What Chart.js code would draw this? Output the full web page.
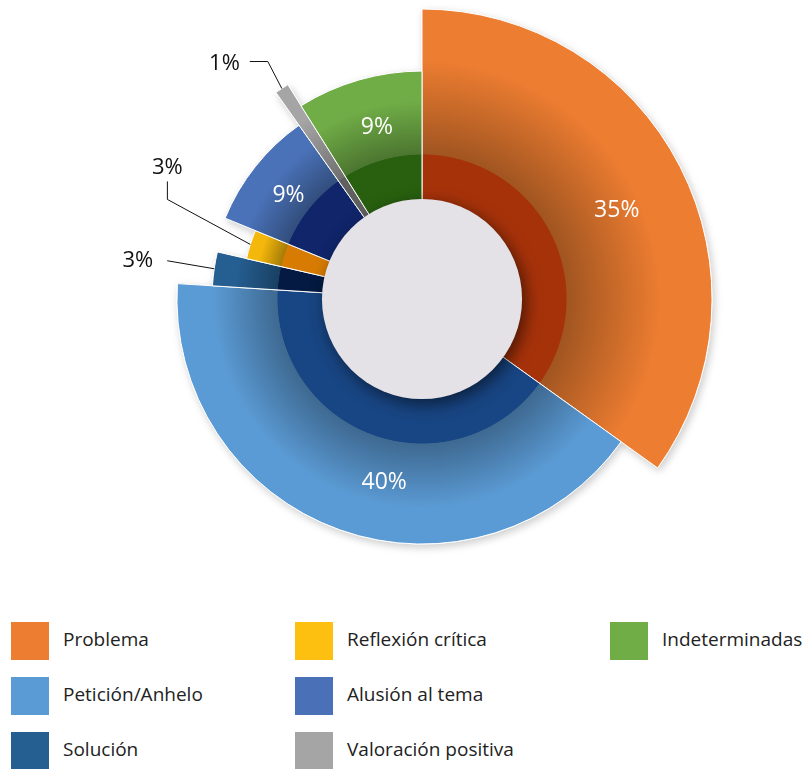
<!DOCTYPE html>
<html lang="es">
<head>
<meta charset="UTF-8">
<title>Categorías</title>
<script src="https://cdn.jsdelivr.net/npm/chart.js"></script>
<style>
  body{margin:0;background:#fff;font-family:"Open Sans",sans-serif}
  .wrap{position:relative;width:806px;height:769px;overflow:hidden}
  #chart{position:absolute;left:0;top:0}
  #legend{position:absolute;left:11px;top:622px;display:grid;grid-template-columns:284px 315px auto;grid-template-rows:repeat(3,55px);grid-auto-flow:column}
  .item{display:flex;align-items:flex-start;font-size:19px;color:#222;white-space:nowrap}
  .sw{width:38px;height:38px;margin-right:14px;flex:none}
  .item span{line-height:34px}
</style>
</head>
<body>
<div class="wrap">
  <canvas id="chart" width="806" height="600"></canvas>
  <div id="legend"></div>
</div>

<script>
const categories = ['Problema','Petición/Anhelo','Solución','Reflexión crítica','Alusión al tema','Valoración positiva','Indeterminadas'];
const shares = [34.9, 41.1, 2.6, 2.6, 9.0, 0.9, 8.9];        // % del total -> ángulo
const reach = [100, 84.5, 72.4, 62.1, 73.4, 87.2, 78.6];     // extensión relativa de cada sector
const shareLabels = ['35%','40%','3%','3%','9%','1%','9%'];

const colors = ['#ed7d31','#5b9bd5','#255e91','#f4b70c','#4a72b8','#a5a5a5','#70ad47'];
const ringColors = ['#a6320a','#184583','#041a42','#d87b02','#10256a','#606060','#28600f'];

const HOLE = 0.345, RING = 0.497;

function shade(hex, f){
  const n = parseInt(hex.slice(1),16);
  return `rgb(${Math.round((n>>16&255)*f)},${Math.round((n>>8&255)*f)},${Math.round((n&255)*f)})`;
}

// radial fill: dark inner ring, then a shaded band fading to the slice colour
function sliceFill(c){
  const i = c.dataIndex, s = c.chart.scales.r;
  if (c.type !== 'data' || !s || !s.drawingArea) return colors[i || 0];
  const ro = s.getDistanceFromCenterForValue(reach[i]);
  const g = c.chart.ctx.createRadialGradient(s.xCenter, s.yCenter, 0, s.xCenter, s.yCenter, ro);
  const ringEnd = Math.min(0.99, RING * s.drawingArea / ro);
  g.addColorStop(0, ringColors[i]);
  g.addColorStop(ringEnd, ringColors[i]);
  g.addColorStop(Math.min(1, ringEnd + 0.003), shade(colors[i], 0.68));
  g.addColorStop(Math.min(1, ringEnd + 0.65 * (1 - ringEnd)), colors[i]);
  g.addColorStop(1, colors[i]);
  return g;
}

const decor = {
  id: 'decor',
  beforeDatasetsDraw(chart){
    const ctx = chart.ctx;
    ctx.save();
    ctx.shadowColor = 'rgba(0,0,0,0.2)';
    ctx.shadowBlur = 8; ctx.shadowOffsetX = 2; ctx.shadowOffsetY = 3;
    chart.getDatasetMeta(0).data.forEach(a => a.draw(ctx));
    ctx.restore();
  },
  afterDatasetsDraw(chart, args, opts){
    const s = chart.scales.r, ctx = chart.ctx, D = s.drawingArea;
    // centre hole
    ctx.save();
    ctx.shadowColor = 'rgba(0,0,0,0.55)';
    ctx.shadowBlur = 16; ctx.shadowOffsetX = 4; ctx.shadowOffsetY = 5;
    ctx.fillStyle = '#e4e2e7';
    ctx.beginPath(); ctx.arc(s.xCenter, s.yCenter, HOLE * D, 0, Math.PI * 2); ctx.fill();
    ctx.restore();

    // labels
    ctx.save();
    chart.getDatasetMeta(0).data.forEach((a, i) => {
      const mid = (a.startAngle + a.endAngle) / 2;
      const co = opts.callouts[i];
      if (!co) {
        const ang = mid + opts.turn[i] * Math.PI / 180;
        const r = 0.154 * D + 0.584 * a.outerRadius;
        ctx.font = '23px "Open Sans"';
        ctx.fillStyle = '#fff';
        ctx.textAlign = 'center'; ctx.textBaseline = 'middle';
        ctx.fillText(shareLabels[i], a.x + r * Math.cos(mid === ang ? mid : ang), a.y + r * Math.sin(ang));
        return;
      }
      let x = a.x + a.outerRadius * Math.cos(mid), y = a.y + a.outerRadius * Math.sin(mid);
      ctx.strokeStyle = '#111'; ctx.lineWidth = 1;
      ctx.beginPath(); ctx.moveTo(x, y);
      co.path.forEach(([dx, dy]) => { x += dx; y += dy; ctx.lineTo(x, y); });
      ctx.stroke();
      ctx.font = '22px "Open Sans"';
      ctx.fillStyle = '#111';
      ctx.textAlign = co.align; ctx.textBaseline = 'middle';
      ctx.fillText(shareLabels[i], x + co.text[0], y + co.text[1]);
    });
    ctx.restore();
  }
};

new Chart(document.getElementById('chart'), {
  type: 'polarArea',
  data: {
    labels: categories,
    datasets: [{
      data: reach,
      angle: c => shares[c.dataIndex] * 3.6,
      backgroundColor: sliceFill,
      borderColor: '#fff',
      borderWidth: 1
    }]
  },
  options: {
    responsive: false,
    animation: false,
    layout: {padding: {left: 132, right: 94, top: 9, bottom: 11}},
    scales: {r: {display: false, min: 0, max: 100, startAngle: 0}},
    plugins: {
      legend: {display: false},
      tooltip: {enabled: false},
      decor: {
        turn: [2.7, -8, 0, 0, -0.7, 0, 1.3],
        callouts: {
          2: {path: [[-47, -8]], text: [-14, 0], align: 'right'},
          3: {path: [[-83, -45], [0, -18]], text: [0, -14], align: 'center'},
          5: {path: [[-14, -27], [-18, 0]], text: [-10, 2], align: 'right'}
        }
      }
    }
  },
  plugins: [decor]
});

// legend, filled column by column
const legendColors = ['#ed7d31','#5b9bd5','#255e91','#fdc010','#4a70b8','#a5a5a5','#70ad47'];
document.getElementById('legend').innerHTML = categories.map((c, i) =>
  `<div class="item"><div class="sw" style="background:${legendColors[i]}"></div><span>${c}</span></div>`).join('');
</script>
</body>
</html>
